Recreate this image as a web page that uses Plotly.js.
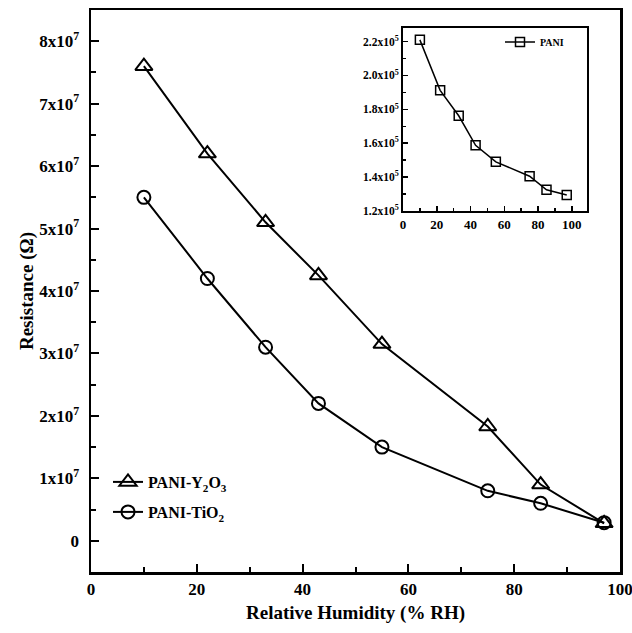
<!DOCTYPE html>
<html>
<head>
<meta charset="utf-8">
<script src="https://cdn.plot.ly/plotly-3.0.1.min.js"></script>
<style>html,body{margin:0;padding:0;background:#fff;}#chart{width:632px;height:633px;}</style>
</head>
<body>
<div id="chart"></div>
<script>
// Data
const humidity = [10, 22, 33, 43, 55, 75, 85, 97];
const resY2O3 = [7.6e7, 6.2e7, 5.1e7, 4.25e7, 3.15e7, 1.83e7, 0.9e7, 0.28e7];
const resTiO2 = [5.5e7, 4.2e7, 3.1e7, 2.2e7, 1.5e7, 0.8e7, 0.6e7, 0.29e7];
const resPANI = [2.21e5, 1.912e5, 1.762e5, 1.588e5, 1.49e5, 1.405e5, 1.325e5, 1.295e5];

const mainYTickVals = [0, 1e7, 2e7, 3e7, 4e7, 5e7, 6e7, 7e7, 8e7];
const mainYTickText = ['0', '1x10<sup>7</sup>', '2x10<sup>7</sup>', '3x10<sup>7</sup>', '4x10<sup>7</sup>', '5x10<sup>7</sup>', '6x10<sup>7</sup>', '7x10<sup>7</sup>', '8x10<sup>7</sup>'];
const mainXTickVals = [0, 20, 40, 60, 80, 100];
const insetYTickVals = [1.2e5, 1.4e5, 1.6e5, 1.8e5, 2.0e5, 2.2e5];
const insetYTickText = ['1.2x10<sup>5</sup>', '1.4x10<sup>5</sup>', '1.6x10<sup>5</sup>', '1.8x10<sup>5</sup>', '2.0x10<sup>5</sup>', '2.2x10<sup>5</sup>'];
const insetXTickVals = [0, 20, 40, 60, 80, 100];

const FONT = 'Liberation Serif, Times New Roman, serif';

const traces = [
  {
    x: humidity, y: resY2O3, type: 'scatter', mode: 'lines+markers',
    name: 'PANI-Y<sub>2</sub>O<sub>3</sub>',
    line: {color: '#000', width: 2},
    marker: {symbol: 'triangle-up-open', size: 15, color: '#000', line: {width: 2}},
    xaxis: 'x', yaxis: 'y', legend: 'legend'
  },
  {
    x: humidity, y: resTiO2, type: 'scatter', mode: 'lines+markers',
    name: 'PANI-TiO<sub>2</sub>',
    line: {color: '#000', width: 2},
    marker: {symbol: 'circle-open', size: 13, color: '#000', line: {width: 2}},
    xaxis: 'x', yaxis: 'y', legend: 'legend3'
  },
  {
    x: humidity, y: resPANI, type: 'scatter', mode: 'lines+markers',
    name: 'PANI',
    line: {color: '#000', width: 1.5},
    marker: {symbol: 'square-open', size: 9, color: '#000', line: {width: 1.5}},
    xaxis: 'x2', yaxis: 'y2', legend: 'legend2'
  }
];

const L = 91, R = 620, T = 10, B = 572, W = 632, H = 633;
const pw = R - L, ph = B - T;
const ix0 = (403 - L) / pw, ix1 = (587 - L) / pw;
const iy0 = (B - 211) / ph, iy1 = (B - 28) / ph;

const layout = {
  width: W, height: H,
  margin: {l: L, r: W - R, t: T, b: H - B},
  paper_bgcolor: '#fff', plot_bgcolor: 'rgba(0,0,0,0)',
  font: {family: FONT, color: '#000', weight: 'bold'},
  showlegend: true,
  xaxis: {
    domain: [0, 1], range: [0, 100],
    tickmode: 'array', tickvals: mainXTickVals,
    ticks: 'inside', ticklen: 8, tickwidth: 2, tickcolor: '#000',
    minor: {tickmode: 'array', tickvals: [10, 30, 50, 70, 90], ticks: 'inside', ticklen: 5, tickwidth: 2, tickcolor: '#000'},
    showline: true, linewidth: 2.5, linecolor: '#000', mirror: true,
    showgrid: false, zeroline: false, ticklabeloverflow: 'allow',
    tickfont: {family: FONT, size: 17, weight: 'bold'},
    title: {text: 'Relative Humidity (% RH)', font: {family: FONT, size: 19, weight: 'bold'}, standoff: 8}
  },
  yaxis: {
    domain: [0, 1], range: [-5e6, 8.5e7],
    tickmode: 'array', tickvals: mainYTickVals, ticktext: mainYTickText,
    ticks: 'inside', ticklen: 8, tickwidth: 2, tickcolor: '#000',
    minor: {tickmode: 'array', tickvals: [5e6, 1.5e7, 2.5e7, 3.5e7, 4.5e7, 5.5e7, 6.5e7, 7.5e7], ticks: 'inside', ticklen: 5, tickwidth: 2, tickcolor: '#000'},
    showline: true, linewidth: 2.5, linecolor: '#000', mirror: true,
    showgrid: false, zeroline: false,
    tickfont: {family: FONT, size: 17, weight: 'bold'},
    ticklabelstandoff: 6,
    title: {text: 'Resistance (Ω)', font: {family: FONT, size: 19, weight: 'bold'}, standoff: 1}
  },
  xaxis2: {
    domain: [ix0, ix1], anchor: 'y2', range: [0, 109],
    tickmode: 'array', tickvals: insetXTickVals,
    ticks: 'inside', ticklen: 5, tickwidth: 1.5, tickcolor: '#000',
    minor: {tickmode: 'array', tickvals: [10, 30, 50, 70, 90], ticks: 'inside', ticklen: 3, tickwidth: 1.5, tickcolor: '#000'},
    showline: true, linewidth: 2, linecolor: '#000', mirror: true,
    showgrid: false, zeroline: false,
    tickfont: {family: FONT, size: 13, weight: 'bold'}
  },
  yaxis2: {
    domain: [iy0, iy1], anchor: 'x2', range: [1.2e5, 2.28e5],
    tickmode: 'array', tickvals: insetYTickVals, ticktext: insetYTickText,
    ticks: 'inside', ticklen: 5, tickwidth: 1.5, tickcolor: '#000',
    minor: {tickmode: 'array', tickvals: [1.3e5, 1.5e5, 1.7e5, 1.9e5, 2.1e5], ticks: 'inside', ticklen: 3, tickwidth: 1.5, tickcolor: '#000'},
    showline: true, linewidth: 2, linecolor: '#000', mirror: true,
    showgrid: false, zeroline: false,
    tickfont: {family: FONT, size: 11.5, weight: 'bold'}
  },
  legend: {
    x: (108 - L) / pw, y: (B - 482) / ph, xanchor: 'left', yanchor: 'middle',
    bgcolor: 'rgba(0,0,0,0)', borderwidth: 0,
    font: {family: FONT, size: 16, weight: 'bold'},
    itemwidth: 30
  },
  legend3: {
    x: (108 - L) / pw, y: (B - 512) / ph, xanchor: 'left', yanchor: 'middle',
    bgcolor: 'rgba(0,0,0,0)', borderwidth: 0,
    font: {family: FONT, size: 16, weight: 'bold'},
    itemwidth: 30
  },
  legend2: {
    x: (500 - L) / pw, y: (B - 42) / ph, xanchor: 'left', yanchor: 'middle',
    bgcolor: 'rgba(0,0,0,0)', borderwidth: 0,
    font: {family: FONT, size: 10, weight: 'bold'},
    itemwidth: 30
  }
};

Plotly.newPlot('chart', traces, layout, {displayModeBar: false, staticPlot: true});
</script>
</body>
</html>
